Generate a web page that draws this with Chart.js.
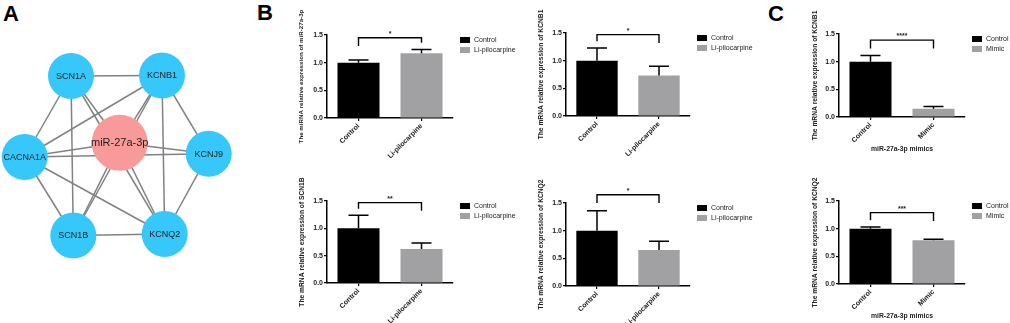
<!DOCTYPE html>
<html lang="en">
<head>
    <meta charset="UTF-8">
    <title>miR-27a-3p network and expression</title>
    <script src="https://cdn.jsdelivr.net/npm/chart.js"></script>
    <style>
        body {
            margin: 0;
            background: #fff;
            font-family: "Liberation Sans", Arial, sans-serif;
        }
        #fig {
            position: relative;
            width: 1010px;
            height: 323px;
            overflow: hidden;
        }
        .letter {
            position: absolute;
            font: bold 22px/1 "Liberation Sans", Arial, sans-serif;
            color: #000;
        }
    </style>
</head>
<body>
<div id="fig">
    <div class="letter" style="left:3px;top:3px">A</div>
    <div class="letter" style="left:257px;top:2px">B</div>
    <div class="letter" style="left:768px;top:3px">C</div>
</div>

<script>
    // ---- panel A: interaction network ----
    const nodeNames = ["miR-27a-3p", "SCN1A", "KCNB1", "CACNA1A", "KCNJ9", "SCN1B", "KCNQ2"];
    // node layout (network coordinates)
    const nodeX = [119.7, 71, 162, 24.7, 208.7, 73.3, 164.7];
    const nodeY = [142.8, 76, 75.5, 157, 153.8, 235.5, 234];
    const edges = [
        [1, 2], [1, 3], [1, 5], [1, 0], [1, 6],
        [2, 3], [2, 4], [2, 6], [2, 0], [2, 5],
        [3, 0], [3, 4], [3, 5], [3, 6],
        [4, 0], [4, 6],
        [5, 6], [5, 0], [6, 0]
    ];

    // ---- panel B: Li-pilocarpine model ----
    const groupsB = ["Control", "Li-pilocarpine"];
    const mir27Mean = [1.00, 1.17];
    const mir27Sem = [0.05, 0.07];
    const kcnb1Mean = [1.00, 0.73];
    const kcnb1Sem = [0.23, 0.17];
    const scn1bMean = [1.00, 0.62];
    const scn1bSem = [0.24, 0.11];
    const kcnq2Mean = [1.00, 0.65];
    const kcnq2Sem = [0.36, 0.16];

    // ---- panel C: miR-27a-3p mimics ----
    const groupsC = ["Control", "Mimic"];
    const mimKcnb1Mean = [1.00, 0.15];
    const mimKcnb1Sem = [0.11, 0.04];
    const mimKcnq2Mean = [1.00, 0.79];
    const mimKcnq2Sem = [0.03, 0.02];

    // significance bracket heights and labels (B1, B2, B3, B4, C1, C2)
    const sigLevels = [1.45, 1.47, 1.47, 1.65, 1.39, 1.29];
    const sigStars = ["*", "*", "**", "*", "****", "***"];
    const yTicks = [0, 0.5, 1.0, 1.5];

    const FONT = '"Liberation Sans", Arial, sans-serif';
    Chart.defaults.font.family = FONT;
    Chart.defaults.color = "#222";
    const BLACK = "#000000";
    const GRAY = "#A1A1A3";
    const fig = document.getElementById("fig");

    function addCanvas(left, top, w, h) {
        const c = document.createElement("canvas");
        c.width = w;
        c.height = h;
        c.style.cssText = `position:absolute;left:${left}px;top:${top}px;`;
        fig.appendChild(c);
        return c;
    }

    // network: scatter chart whose scales map 1:1 onto the canvas
    const netLabels = {
        id: "netLabels",
        afterDatasetsDraw(chart) {
            const ctx = chart.ctx;
            const xs = chart.scales.x, ys = chart.scales.y;
            ctx.save();
            ctx.fillStyle = "#1e1e1e";
            ctx.textAlign = "center";
            ctx.textBaseline = "middle";
            nodeNames.forEach((n, i) => {
                ctx.font = (i === 0 ? "11px " : "9px ") + FONT;
                ctx.fillText(n, xs.getPixelForValue(nodeX[i]), ys.getPixelForValue(nodeY[i]) + 0.5);
            });
            ctx.restore();
        }
    };

    const netData = [{
        data: nodeNames.map((n, i) => ({ x: nodeX[i], y: nodeY[i] })),
        pointRadius: nodeNames.map((n, i) => (i === 0 ? 28 : 23)),
        pointHoverRadius: nodeNames.map((n, i) => (i === 0 ? 28 : 23)),
        pointBackgroundColor: nodeNames.map((n, i) => (i === 0 ? "#F99A9A" : "#36C8FA")),
        pointBorderWidth: 0,
        showLine: false,
        clip: false,
        order: 0
    }];
    edges.forEach(([a, b]) => {
        netData.push({
            data: [{ x: nodeX[a], y: nodeY[a] }, { x: nodeX[b], y: nodeY[b] }],
            showLine: true,
            borderColor: "#828282",
            borderWidth: 1.5,
            pointRadius: 0,
            clip: false,
            order: 1
        });
    });

    new Chart(addCanvas(0, 0, 240, 323), {
        type: "scatter",
        data: { datasets: netData },
        options: {
            responsive: false,
            animation: false,
            events: [],
            layout: { padding: 0, autoPadding: false },
            plugins: { legend: { display: false }, tooltip: { enabled: false } },
            scales: {
                x: { type: "linear", min: 0, max: 240, display: false },
                y: { type: "linear", min: 0, max: 323, reverse: true, display: false }
            }
        },
        plugins: [netLabels]
    });

    // error bars, significance bracket and legend for the bar charts
    const barExtras = {
        id: "barExtras",
        afterDatasetsDraw(chart, args, opts) {
            const ctx = chart.ctx;
            const ys = chart.scales.y;
            const bars = chart.getDatasetMeta(0).data;
            const means = chart.data.datasets[0].data;
            ctx.save();
            ctx.strokeStyle = "#000";
            ctx.lineWidth = 1.5;
            const tops = [];
            bars.forEach((b, i) => {
                const top = means[i] + opts.sem[i];
                tops.push(top);
                const yt = ys.getPixelForValue(top);
                ctx.beginPath();
                ctx.moveTo(b.x, b.y);
                ctx.lineTo(b.x, yt);
                ctx.moveTo(b.x - 10, yt);
                ctx.lineTo(b.x + 10, yt);
                ctx.stroke();
            });
            // bracket
            const yl = ys.getPixelForValue(opts.level);
            const leg = tops.map(t => ys.getPixelForValue(Math.max(t + 0.12, opts.level - 0.15)));
            ctx.lineWidth = 1.4;
            ctx.beginPath();
            ctx.moveTo(bars[0].x, leg[0]);
            ctx.lineTo(bars[0].x, yl);
            ctx.lineTo(bars[1].x, yl);
            ctx.lineTo(bars[1].x, leg[1]);
            ctx.stroke();
            ctx.fillStyle = "#222";
            ctx.font = "bold 7px " + FONT;
            ctx.textAlign = "center";
            ctx.textBaseline = "alphabetic";
            ctx.fillText(opts.stars, (bars[0].x + bars[1].x) / 2, yl - 2);
            // legend
            const lx = chart.chartArea.right + 7;
            const ly = chart.chartArea.top + 5;
            ctx.font = "7px " + FONT;
            ctx.textAlign = "left";
            ctx.textBaseline = "middle";
            chart.data.labels.forEach((lab, i) => {
                ctx.fillStyle = chart.data.datasets[0].backgroundColor[i];
                ctx.fillRect(lx, ly + i * 10 - 3, 10, 6);
                ctx.fillStyle = "#222";
                ctx.fillText(lab, lx + 14, ly + i * 10);
            });
            ctx.restore();
        }
    };

    function barChart(cfg) {
        const tSize = cfg.titleSize;
        const padTop = cfg.top - 3, padRight = cfg.padRight;
        const xH = cfg.xTitle ? 36 : 40;
        const cLeft = Math.round(cfg.titleX - tSize * 1.2 / 2);
        const cTop = cfg.top - padTop;
        const w = cfg.right + padRight - cLeft;
        const h = padTop + (cfg.bottom - cfg.top) + xH;
        const yW = cfg.left - cLeft;
        new Chart(addCanvas(cLeft, cTop, w, h), {
            type: "bar",
            data: {
                labels: cfg.cats,
                datasets: [{
                    data: cfg.means,
                    backgroundColor: [BLACK, GRAY],
                    borderWidth: 0,
                    barPercentage: 0.667,
                    categoryPercentage: 1
                }]
            },
            options: {
                responsive: false,
                animation: false,
                events: [],
                layout: { padding: { top: padTop, right: padRight, left: 0, bottom: 0 } },
                plugins: {
                    legend: { display: false },
                    tooltip: { enabled: false },
                    barExtras: { sem: cfg.sem, level: cfg.level, stars: cfg.stars }
                },
                scales: {
                    x: {
                        offset: true,
                        grid: { drawOnChartArea: false, offset: false, tickLength: 3, color: "#000", lineWidth: 1.2 },
                        border: { color: "#000", width: 1.5 },
                        ticks: { minRotation: 45, maxRotation: 45, autoSkip: false, padding: 1, font: { size: 7, weight: "bold" } },
                        title: { display: !!cfg.xTitle, text: cfg.xTitle || "", font: { size: 6.8, weight: "bold" }, padding: 0 },
                        afterFit: s => { s.height = xH; }
                    },
                    y: {
                        min: 0,
                        max: 1.5,
                        afterBuildTicks: s => { s.ticks = yTicks.map(v => ({ value: v })); },
                        ticks: { callback: v => Number(v).toFixed(1), padding: 1, font: { size: 7, weight: "bold" } },
                        grid: { drawOnChartArea: false, tickLength: 3, color: "#000", lineWidth: 1.2 },
                        border: { color: "#000", width: 1.5 },
                        title: { display: true, text: cfg.yTitle, font: { size: tSize, weight: "bold" }, padding: 0 },
                        afterFit: s => { s.width = yW; }
                    }
                }
            },
            plugins: [barExtras]
        });
    }

    barChart({ left: 327, top: 35, right: 453, bottom: 118, titleX: 302, titleSize: 6.2, padRight: 80,
        cats: groupsB, means: mir27Mean, sem: mir27Sem, level: sigLevels[0], stars: sigStars[0],
        yTitle: "The miRNA relative expression of miR-27a-3p" });
    barChart({ left: 566, top: 33, right: 690, bottom: 116, titleX: 541, titleSize: 6.7, padRight: 78,
        cats: groupsB, means: kcnb1Mean, sem: kcnb1Sem, level: sigLevels[1], stars: sigStars[1],
        yTitle: "The mRNA relative expression of KCNB1" });
    barChart({ left: 327, top: 201, right: 453, bottom: 283, titleX: 302, titleSize: 6.7, padRight: 80,
        cats: groupsB, means: scn1bMean, sem: scn1bSem, level: sigLevels[2], stars: sigStars[2],
        yTitle: "The mRNA relative expression of SCN1B" });
    barChart({ left: 566, top: 203, right: 690, bottom: 286, titleX: 541, titleSize: 6.7, padRight: 78,
        cats: groupsB, means: kcnq2Mean, sem: kcnq2Sem, level: sigLevels[3], stars: sigStars[3],
        yTitle: "The mRNA relative expression of KCNQ2" });
    barChart({ left: 839, top: 34, right: 965, bottom: 117, titleX: 815, titleSize: 6.7, padRight: 45,
        cats: groupsC, means: mimKcnb1Mean, sem: mimKcnb1Sem, level: sigLevels[4], stars: sigStars[4],
        yTitle: "The mRNA relative expression of KCNB1", xTitle: "miR-27a-3p mimics" });
    barChart({ left: 839, top: 201, right: 965, bottom: 284, titleX: 815, titleSize: 6.7, padRight: 45,
        cats: groupsC, means: mimKcnq2Mean, sem: mimKcnq2Sem, level: sigLevels[5], stars: sigStars[5],
        yTitle: "The mRNA relative expression of KCNQ2", xTitle: "miR-27a-3p mimics" });
</script>
</body>
</html>
